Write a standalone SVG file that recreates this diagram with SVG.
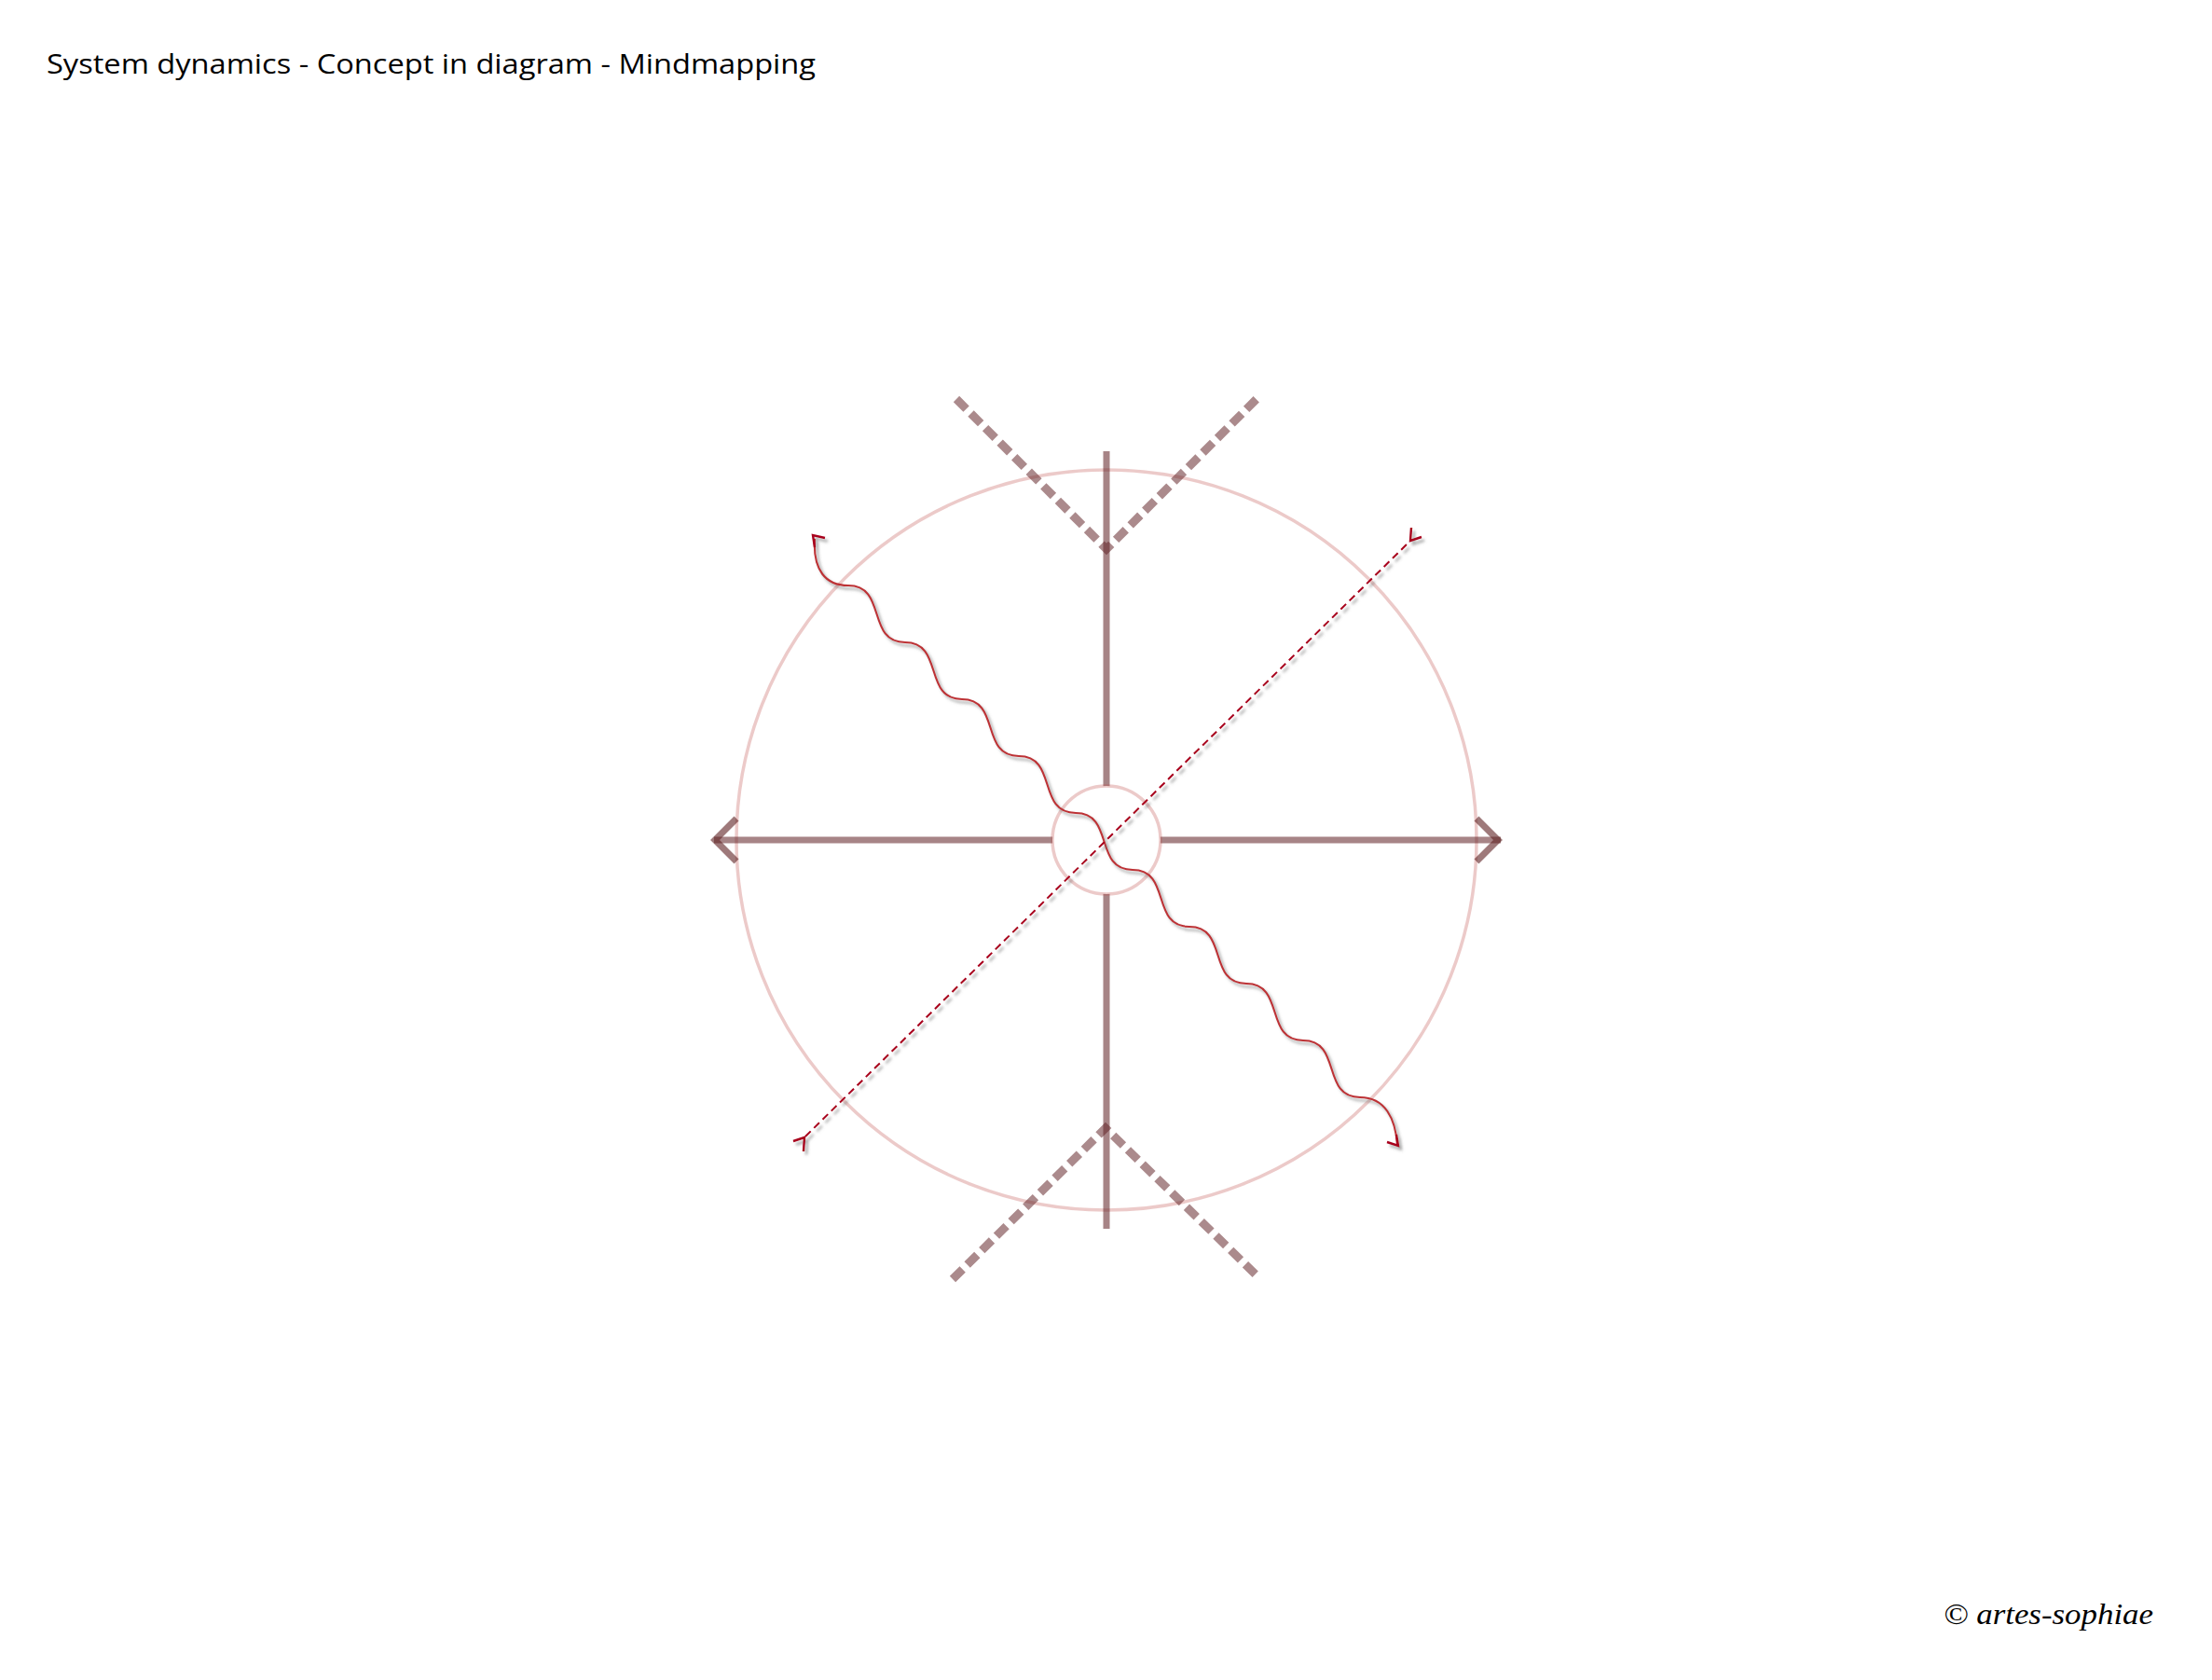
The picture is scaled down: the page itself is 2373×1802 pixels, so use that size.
<svg xmlns="http://www.w3.org/2000/svg" width="2373" height="1802" viewBox="0 0 2373 1802">
<style>
.axis{fill:none;stroke:#5e1f22;stroke-opacity:0.55;stroke-width:7}
.chev{fill:none;stroke:#5e1f22;stroke-opacity:0.6;stroke-width:7;stroke-linejoin:miter}
.vdash{fill:none;stroke:#5e1f22;stroke-opacity:0.52;stroke-width:9;stroke-dasharray:15 7}
.ring{fill:none;stroke:#c0504d;stroke-opacity:0.3;stroke-width:3.5}
.wave{fill:none;stroke:#bd3236;stroke-width:2.1}
.dash{fill:none;stroke:#a8001c;stroke-width:2;stroke-dasharray:8 5}
.head{fill:none;stroke:#a8001c;stroke-width:2.4;stroke-linejoin:miter}
.title{font-family:"Open Sans","Liberation Sans",sans-serif;font-size:30px;fill:#000}
.copy{font-family:"Liberation Serif",serif;font-style:italic;font-size:32px;fill:#000}
</style>
<defs>
<filter id="shadow" x="-10%" y="-10%" width="120%" height="120%">
<feDropShadow dx="3" dy="3.5" stdDeviation="1.8" flood-color="#666" flood-opacity="0.6"/>
</filter>
</defs>
<rect width="2373" height="1802" fill="#fff"/>
<g id="title"><text class="title" x="50" y="79" textLength="825" lengthAdjust="spacingAndGlyphs">System dynamics - Concept in diagram - Mindmapping</text></g>
<g id="copyright"><text class="copy" x="2085" y="1742" textLength="225" lengthAdjust="spacingAndGlyphs">© artes-sophiae</text></g>
<g id="outer-circle"><circle class="ring" cx="1187" cy="901" r="397"/></g>
<g id="connectors">
<g id="cross">
<line class="axis" x1="1187" y1="484" x2="1187" y2="1318"/>
<line class="axis" x1="766" y1="901" x2="1610" y2="901"/>
<polyline class="chev" points="790,878 767,901 790,924"/>
<polyline class="chev" points="1584,878 1607,901 1584,924"/>
</g>
<g id="top-v">
<polyline class="vdash" points="1026,428 1187,589 1352,424"/>
</g>
<g id="bottom-v">
<polyline class="vdash" points="1022,1372 1186,1210 1348,1368"/>
</g>
</g>
<g id="inner-circle"><circle cx="1187" cy="901" r="58" fill="#fff" stroke="#c0504d" stroke-opacity="0.3" stroke-width="3.5"/></g>
<g id="flows">
<g id="wave-flow" filter="url(#shadow)">
<path class="wave" d="M874,578 C872,612 886,628 910,628 c42,0 19,61 61,61 c42,0 19,61 61,61 c42,0 19,61 61,61 c42,0 19,61 61,61 c42,0 19,61 61,61 c42,0 19,61 61,61 c42,0 19,61 61,61 c42,0 19,61 61,61 c42,0 19,61 61,61 C1486,1177 1497,1200 1499,1228"/>
<polyline class="head" points="885,577 872,574 874,587"/>
<polyline class="head" points="1488,1225 1500,1229 1498,1217"/>
</g>
<g id="dashed-flow" filter="url(#shadow)">
<line class="dash" x1="864" y1="1219" x2="1512" y2="581"/>
<polyline class="head" points="851,1224 863,1220 862,1235"/>
<polyline class="head" points="1525,576 1513,580 1514,566"/>
</g>
</g>
</svg>
